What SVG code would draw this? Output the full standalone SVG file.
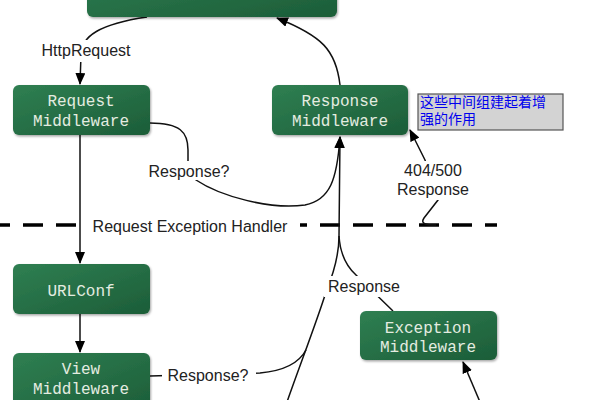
<svg xmlns="http://www.w3.org/2000/svg" width="600" height="400" viewBox="0 0 600 400">
<style>
.node rect{fill:url(#g);filter:url(#sh)}
.node text{font-family:"Liberation Mono","DejaVu Sans Mono",monospace;font-size:16px;fill:#e4ece0;text-anchor:middle}
.conn{fill:none;stroke:#111;stroke-width:1.5}
.lbl{font-family:"Liberation Sans",Arial,sans-serif;font-size:16px;fill:#222;text-anchor:middle}
.bg{fill:#fff}
.cjk{font-family:"Noto Sans CJK SC",sans-serif;font-size:14px;fill:#0000ee}
</style>
<defs>
<linearGradient id="g" x1="0" y1="0" x2="1" y2="1">
<stop offset="0" stop-color="#2f7f52"/>
<stop offset="1" stop-color="#1c5d38"/>
</linearGradient>
<filter id="sh" x="-10%" y="-10%" width="130%" height="140%">
<feDropShadow dx="1" dy="1.5" stdDeviation="1.2" flood-color="#000" flood-opacity="0.35"/>
</filter>
<marker id="ar" viewBox="0 0 12 10" refX="11" refY="5" markerWidth="12" markerHeight="10" markerUnits="userSpaceOnUse" orient="auto">
<path d="M0,0 L12,5 L0,10 z" fill="#000"/>
</marker>
</defs>
<rect width="600" height="400" fill="#fff"/>

<line x1="-10" y1="225" x2="497" y2="225" stroke="#000" stroke-width="3.5" stroke-dasharray="20 13"/>

<g id="connectors">
<path class="conn" d="M147,17 C100,24 81,36 81,55 L80,84" marker-end="url(#ar)"/>
<path class="conn" d="M340,85 C336,50 322,36 277,18" marker-end="url(#ar)"/>
<path class="conn" d="M150,123 C180,123 188,132 188,150 L188,165 C190,173 192,177 196,180 C220,196 270,210 305,205 C330,200 337,180 340,137" marker-end="url(#ar)"/>
<path class="conn" d="M287,402 C300,365 318,318 326,292 C333,275 339,255 339,236 L340,137" marker-end="url(#ar)"/>
<path class="conn" d="M393,311 L356,275 C345,265 340,252 339,236"/>
<path class="conn" d="M150,376 L260,373 C282,371 298,365 306,350"/>
<path class="conn" d="M436,225 C426,225 420,224 424,218 L438,200 L425,160 L410,130" marker-end="url(#ar)"/>
<path class="conn" d="M80,135 L80,263" marker-end="url(#ar)"/>
<path class="conn" d="M80,314 L80,352" marker-end="url(#ar)"/>
<path class="conn" d="M480,402 L463,362" marker-end="url(#ar)"/>
</g>

<g id="labels">
<rect class="bg" x="36" y="40" width="100" height="22"/>
<text class="lbl" x="86" y="56">HttpRequest</text>
<rect class="bg" x="143" y="161" width="91" height="19"/>
<text class="lbl" x="189" y="177">Response?</text>
<rect class="bg" x="84" y="214" width="216" height="22"/>
<text class="lbl" x="190" y="232">Request Exception Handler</text>
<rect class="bg" x="394" y="161" width="80" height="39"/>
<text class="lbl" x="433" y="176">404/500</text>
<text class="lbl" x="433" y="195">Response</text>
<rect class="bg" x="324" y="276" width="81" height="21"/>
<text class="lbl" x="364" y="292">Response</text>
<rect class="bg" x="162" y="364" width="94" height="22"/>
<text class="lbl" x="208" y="381">Response?</text>
</g>

<g id="top-node" class="node">
<rect x="87" y="-40" width="250" height="57" rx="6"/>
</g>
<g id="request-middleware" class="node">
<rect x="13" y="85" width="137" height="50" rx="6"/>
<text x="81" y="106">Request</text>
<text x="81" y="126">Middleware</text>
</g>
<g id="response-middleware" class="node">
<rect x="272" y="85" width="136" height="50" rx="6"/>
<text x="340" y="106">Response</text>
<text x="340" y="126">Middleware</text>
</g>
<g id="note">
<rect x="418" y="94" width="145" height="36" fill="#d3d3d3" stroke="#555" stroke-width="1.2"/>
<text class="cjk" x="420" y="107">这些中间组建起着增<tspan x="420" dy="17">强的作用</tspan></text>
</g>
<g id="urlconf" class="node">
<rect x="13" y="264" width="137" height="50" rx="6"/>
<text x="81" y="296">URLConf</text>
</g>
<g id="view-middleware" class="node">
<rect x="13" y="353" width="137" height="60" rx="6"/>
<text x="81" y="374">View</text>
<text x="81" y="394">Middleware</text>
</g>
<g id="exception-middleware" class="node">
<rect x="360" y="311" width="137" height="49" rx="6"/>
<text x="428" y="333">Exception</text>
<text x="428" y="352">Middleware</text>
</g>
</svg>
